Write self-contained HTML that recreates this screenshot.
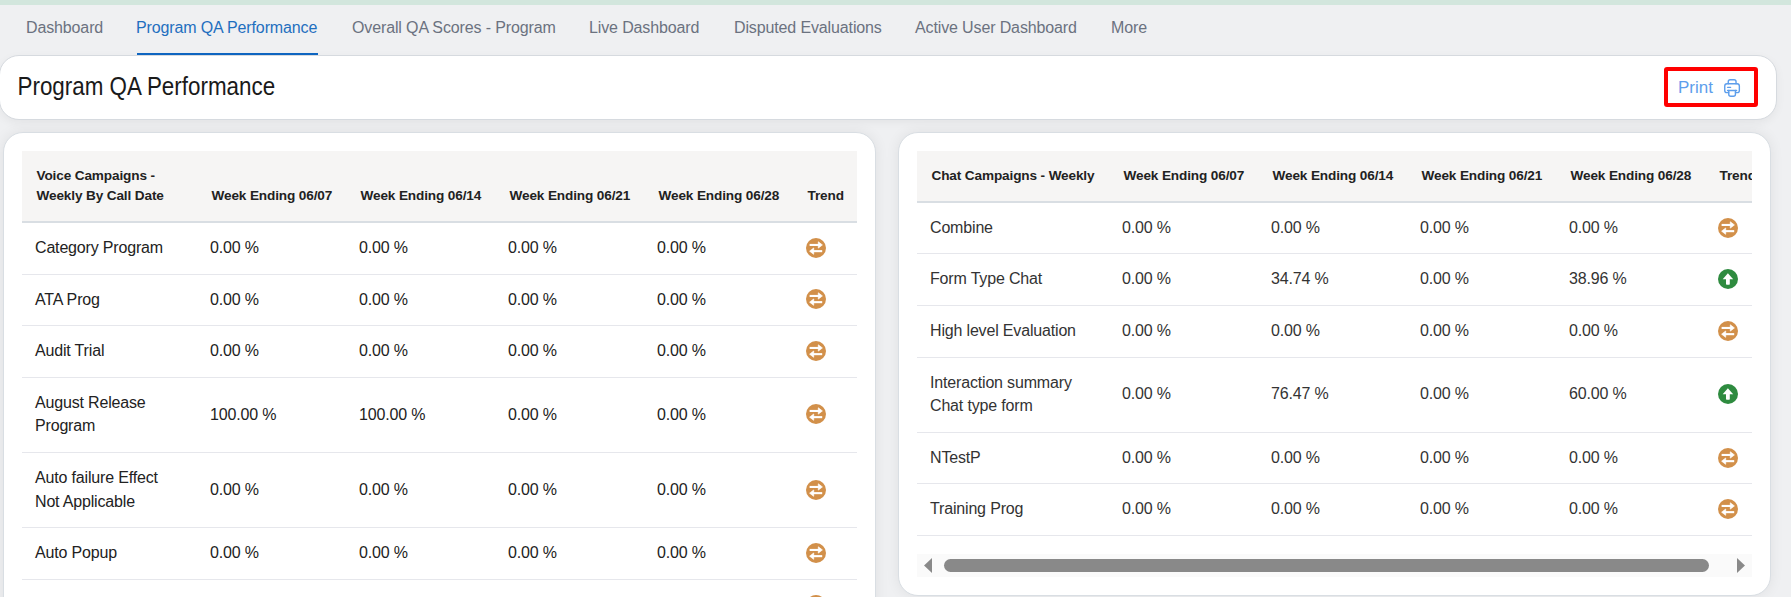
<!DOCTYPE html>
<html>
<head>
<meta charset="utf-8">
<style>
html,body{margin:0;padding:0;}
body{width:1791px;height:597px;overflow:hidden;position:relative;background:#eff0f2;font-family:"Liberation Sans",sans-serif;}
.topbar{position:absolute;left:0;top:0;width:1791px;height:5px;background:#d2e6dd;}
.tab{position:absolute;top:18px;font-size:16px;line-height:20px;color:#6b7280;white-space:nowrap;letter-spacing:-0.13px;}
.tab.active{color:#1f6fbf;}
.uline{position:absolute;left:137px;top:53px;width:181px;height:2px;background:#0f66c2;}
.hcard{position:absolute;left:-1px;top:55px;width:1776px;height:63px;border:1px solid #d6dadf;border-radius:20px;background:#fff;box-shadow:0 3px 10px rgba(0,0,0,0.05);}
.title{position:absolute;left:17.5px;top:73px;font-size:22.4px;line-height:26px;color:#1a1a1a;white-space:nowrap;transform:scaleY(1.11);transform-origin:0 0;}
.printbtn{position:absolute;left:1664px;top:67px;width:86px;height:32px;border:4px solid #ff0000;border-radius:3px;}
.printtxt{position:absolute;left:1678px;top:78px;font-size:17px;line-height:20px;color:#5d9eec;}
.card{position:absolute;top:132px;width:871px;border:1px solid #d9dee3;border-radius:20px;background:#fff;box-shadow:0 0 14px rgba(0,0,0,0.07);}
.lcard{left:3px;height:600px;}
.rcard{left:898px;height:462px;}
table{border-collapse:collapse;table-layout:fixed;position:absolute;font-family:"Liberation Sans",sans-serif;}
th{background:#f6f5f4;font-size:13.6px;font-weight:700;color:#222;letter-spacing:-0.13px;text-align:left;padding:15px 11.5px 15px 14.5px;line-height:20px;border-bottom:2px solid #d9dee3;vertical-align:bottom;}
td{font-size:16px;color:#222;letter-spacing:-0.17px;padding:13px 13px 14px 13px;line-height:23.6px;border-bottom:1px solid #e6e7ec;vertical-align:middle;}
.ltab{left:22px;top:151px;width:835px;}
.rwrap{position:absolute;left:917px;top:151px;width:835px;height:430px;overflow:hidden;}
.rtab{left:0;top:0;width:874px;}
.rtab td{color:#333;}
.rtab th{padding-bottom:14.75px;}
.ic{display:block;width:20px;height:20px;}
.sbtrack{position:absolute;left:917px;top:554px;width:835px;height:23px;background:#fafafa;}
.sbthumb{position:absolute;left:944px;top:559px;width:765px;height:13px;border-radius:6.5px;background:#898989;}
</style>
</head>
<body>
<div class="topbar"></div>
<div class="tab" style="left:26px">Dashboard</div>
<div class="tab active" style="left:136px">Program QA Performance</div>
<div class="tab" style="left:352px">Overall QA Scores - Program</div>
<div class="tab" style="left:589px">Live Dashboard</div>
<div class="tab" style="left:734px">Disputed Evaluations</div>
<div class="tab" style="left:915px">Active User Dashboard</div>
<div class="tab" style="left:1111px">More</div>
<div class="uline"></div>

<div class="hcard"></div>
<div class="title">Program QA Performance</div>
<div class="printbtn"></div>
<div class="printtxt">Print</div>
<svg style="position:absolute;left:1723px;top:78px" width="18" height="20" viewBox="0 0 18 20">
<g fill="none" stroke="#5d9eec" stroke-width="1.4" stroke-linejoin="round" stroke-linecap="round">
<path d="M5.25 5.75 V3.75 Q5.25 1.75 7.25 1.75 H11.05 Q13.05 1.75 13.05 3.75 V5.75"/>
<path d="M5.75 14.65 H4 Q1.75 14.65 1.75 12.4 V8 Q1.75 5.75 4 5.75 H14.1 Q16.35 5.75 16.35 8 V12.4 Q16.35 14.65 14.1 14.65 H12.45"/>
<path d="M5.75 12.5 V16.25 Q5.75 18.25 7.75 18.25 H10.45 Q12.45 18.25 12.45 16.25 V12.5"/>
<path d="M4.6 12.5 H13.6"/>
<path d="M4.6 9.35 H7.6"/>
</g>
</svg>

<div class="card lcard"></div>
<div class="card rcard"></div>

<svg width="0" height="0" style="position:absolute">
<defs>
<g id="swap">
<circle cx="10" cy="10" r="10" fill="#d2904a"/>
<path d="M3.6 6.95 H13" stroke="#fff" stroke-width="2.1" fill="none"/>
<path d="M12.3 3.8 L16.4 6.95 L12.3 10.1 Z" fill="#fff" stroke="#fff" stroke-width="0.7" stroke-linejoin="round"/>
<path d="M7 13.15 H16.2" stroke="#fff" stroke-width="2.1" fill="none"/>
<path d="M7.7 10 L3.6 13.15 L7.7 16.3 Z" fill="#fff" stroke="#fff" stroke-width="0.7" stroke-linejoin="round"/>
</g>
<g id="up">
<circle cx="10" cy="10" r="10" fill="#2e8b3f"/>
<path d="M9.9 4.3 L15.2 10.2 H4.7 Z" fill="#fff"/>
<rect x="8" y="9" width="3.8" height="6.8" rx="0.8" fill="#fff"/>
</g>
</defs>
</svg>

<table class="ltab">
<colgroup><col style="width:175px"><col style="width:149px"><col style="width:149px"><col style="width:149px"><col style="width:149px"><col style="width:64px"></colgroup>
<tr><th>Voice Campaigns -<br>Weekly By Call Date</th><th>Week Ending 06/07</th><th>Week Ending 06/14</th><th>Week Ending 06/21</th><th>Week Ending 06/28</th><th>Trend</th></tr>
<tr><td>Category Program</td><td>0.00 %</td><td>0.00 %</td><td>0.00 %</td><td>0.00 %</td><td><svg class="ic" viewBox="0 0 20 20"><use href="#swap"/></svg></td></tr>
<tr><td>ATA Prog</td><td>0.00 %</td><td>0.00 %</td><td>0.00 %</td><td>0.00 %</td><td><svg class="ic" viewBox="0 0 20 20"><use href="#swap"/></svg></td></tr>
<tr><td>Audit Trial</td><td>0.00 %</td><td>0.00 %</td><td>0.00 %</td><td>0.00 %</td><td><svg class="ic" viewBox="0 0 20 20"><use href="#swap"/></svg></td></tr>
<tr><td>August Release<br>Program</td><td>100.00 %</td><td>100.00 %</td><td>0.00 %</td><td>0.00 %</td><td><svg class="ic" viewBox="0 0 20 20"><use href="#swap"/></svg></td></tr>
<tr><td>Auto failure Effect<br>Not Applicable</td><td>0.00 %</td><td>0.00 %</td><td>0.00 %</td><td>0.00 %</td><td><svg class="ic" viewBox="0 0 20 20"><use href="#swap"/></svg></td></tr>
<tr><td>Auto Popup</td><td>0.00 %</td><td>0.00 %</td><td>0.00 %</td><td>0.00 %</td><td><svg class="ic" viewBox="0 0 20 20"><use href="#swap"/></svg></td></tr>
<tr><td>Auto Test</td><td>0.00 %</td><td>0.00 %</td><td>0.00 %</td><td>0.00 %</td><td><svg class="ic" viewBox="0 0 20 20"><use href="#swap"/></svg></td></tr>
</table>

<div class="rwrap">
<table class="rtab">
<colgroup><col style="width:192px"><col style="width:149px"><col style="width:149px"><col style="width:149px"><col style="width:149px"><col style="width:86px"></colgroup>
<tr><th>Chat Campaigns - Weekly</th><th>Week Ending 06/07</th><th>Week Ending 06/14</th><th>Week Ending 06/21</th><th>Week Ending 06/28</th><th>Trend</th></tr>
<tr><td>Combine</td><td>0.00 %</td><td>0.00 %</td><td>0.00 %</td><td>0.00 %</td><td><svg class="ic" viewBox="0 0 20 20"><use href="#swap"/></svg></td></tr>
<tr><td>Form Type Chat</td><td>0.00 %</td><td>34.74 %</td><td>0.00 %</td><td>38.96 %</td><td><svg class="ic" viewBox="0 0 20 20"><use href="#up"/></svg></td></tr>
<tr><td>High level Evaluation</td><td>0.00 %</td><td>0.00 %</td><td>0.00 %</td><td>0.00 %</td><td><svg class="ic" viewBox="0 0 20 20"><use href="#swap"/></svg></td></tr>
<tr><td>Interaction summary<br>Chat type form</td><td>0.00 %</td><td>76.47 %</td><td>0.00 %</td><td>60.00 %</td><td><svg class="ic" viewBox="0 0 20 20"><use href="#up"/></svg></td></tr>
<tr><td>NTestP</td><td>0.00 %</td><td>0.00 %</td><td>0.00 %</td><td>0.00 %</td><td><svg class="ic" viewBox="0 0 20 20"><use href="#swap"/></svg></td></tr>
<tr><td>Training Prog</td><td>0.00 %</td><td>0.00 %</td><td>0.00 %</td><td>0.00 %</td><td><svg class="ic" viewBox="0 0 20 20"><use href="#swap"/></svg></td></tr>
</table>
</div>
<div class="sbtrack"></div>
<div class="sbthumb"></div>
<svg style="position:absolute;left:917px;top:554px" width="835" height="23">
<path d="M7 11.5 L15 4 L15 19 Z" fill="#898989"/>
<path d="M828 11.5 L820 4 L820 19 Z" fill="#898989"/>
</svg>
</body>
</html>
